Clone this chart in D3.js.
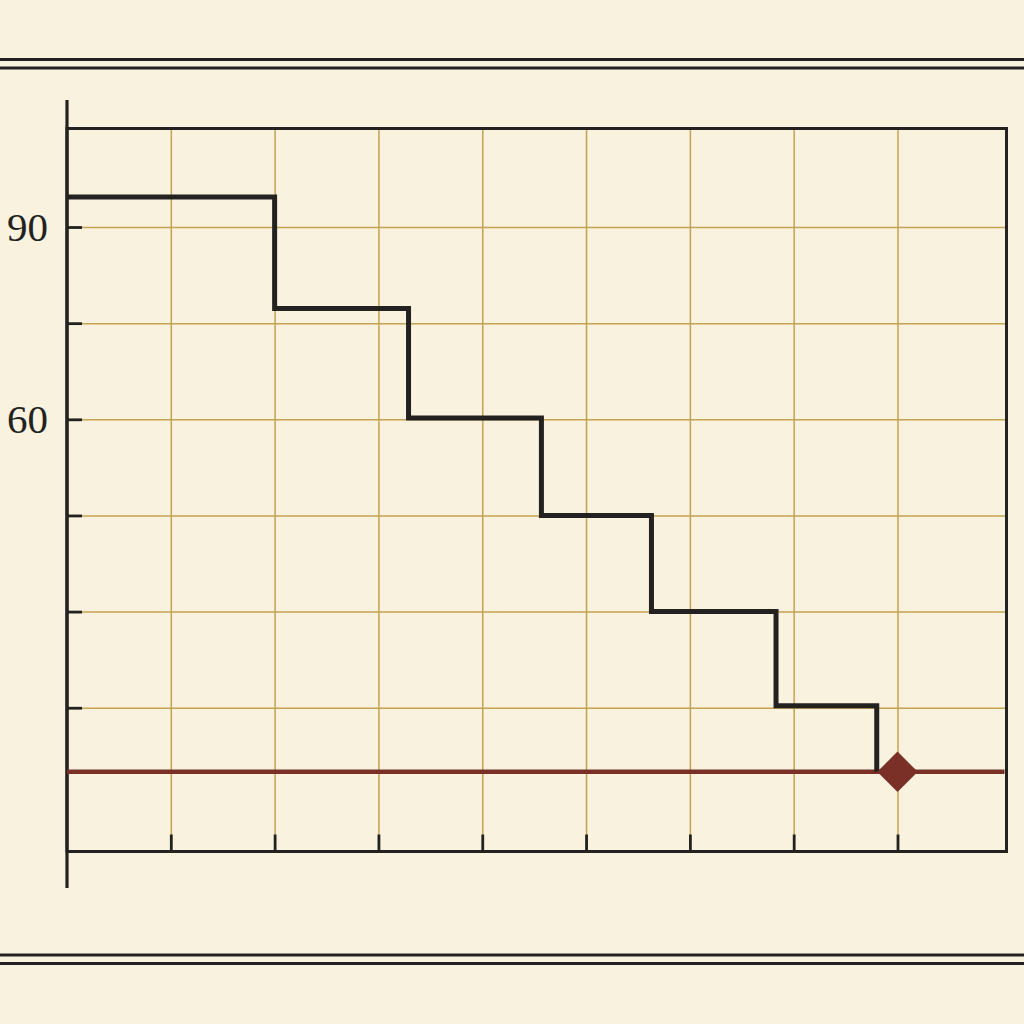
<!DOCTYPE html>
<html>
<head>
<meta charset="utf-8">
<script src="https://cdn.jsdelivr.net/npm/d3@7"></script>
<style>
  html, body { margin: 0; padding: 0; background: #f8f2df; }
  svg { display: block; }
</style>
</head>
<body>
<div class="chart"></div>
<script>
// chart values
var stepX = [0, 2.0, 3.29, 4.57, 5.63, 6.83, 7.8];
var stepY = [94.7, 77.3, 60.2, 45, 30, 15.3, 5];
var xTicks = [1, 2, 3, 4, 5, 6, 7, 8];
var yTicks = [15, 30, 45, 60, 75, 90];
var yLabels = [60, 90];
var refValue = 5;
var markerX = 8;

var svgWidth = 1024;
var svgHeight = 1024;
var margin = {top: 128.5, right: 17.5, bottom: 172.5, left: 67};
var width = svgWidth - margin.left - margin.right;
var height = svgHeight - margin.top - margin.bottom;

var ink = "#242220";
var gold = "#c6a152";
var red = "#7a2f27";

var root = d3.select(".chart")
  .append("svg")
  .attr("width", svgWidth)
  .attr("height", svgHeight);

root.append("rect")
  .attr("width", svgWidth)
  .attr("height", svgHeight)
  .attr("fill", "#f8f2df");

// double rules top and bottom
[59.5, 68, 955, 963.5].forEach(function(y) {
  root.append("line")
    .attr("x1", 0).attr("x2", svgWidth)
    .attr("y1", y).attr("y2", y)
    .attr("stroke", ink)
    .attr("stroke-width", 2.8);
});

var chart = root.append("g")
  .attr("transform", "translate(" + margin.left + "," + margin.top + ")");

var x = d3.scaleLinear().domain([0, 9.05]).range([0, width]);
var y = d3.scaleLinear().domain([-7.43, 105.37]).range([height, 0]);

// gridlines
var xGrid = chart.append("g")
  .attr("transform", "translate(0," + height + ")")
  .call(d3.axisBottom(x).tickValues(xTicks).tickSize(-height).tickFormat(""));
xGrid.select(".domain").remove();
xGrid.selectAll("line").attr("stroke", gold).attr("stroke-width", 1.5);

var yGrid = chart.append("g")
  .call(d3.axisLeft(y).tickValues(yTicks).tickSize(-width).tickFormat(""));
yGrid.select(".domain").remove();
yGrid.selectAll("line").attr("stroke", gold).attr("stroke-width", 1.5);

// frame
chart.append("rect")
  .attr("width", width)
  .attr("height", height)
  .attr("fill", "none")
  .attr("stroke", ink)
  .attr("stroke-width", 3);

// left spine runs past the frame
chart.append("line")
  .attr("x1", 0).attr("x2", 0)
  .attr("y1", -28.5).attr("y2", height + 36.5)
  .attr("stroke", ink)
  .attr("stroke-width", 3.2);

// axes with inward ticks
var bottomAxis = chart.append("g")
  .attr("transform", "translate(0," + height + ")")
  .call(d3.axisBottom(x).tickValues(xTicks).tickSize(-17).tickSizeOuter(0).tickFormat(""));
bottomAxis.select(".domain").remove();
bottomAxis.selectAll("line").attr("stroke", ink).attr("stroke-width", 2.8);

var leftAxis = chart.append("g")
  .call(d3.axisLeft(y).tickValues(yTicks).tickSize(-15).tickSizeOuter(0).tickPadding(19)
    .tickFormat(function(d) { return yLabels.indexOf(d) >= 0 ? d : ""; }));
leftAxis.select(".domain").remove();
leftAxis.selectAll("line").attr("stroke", ink).attr("stroke-width", 2.8);
leftAxis.selectAll("text")
  .attr("fill", ink)
  .style("font-family", "'Liberation Serif', 'DejaVu Serif', serif")
  .style("font-size", "41px");

// reference line
chart.append("line")
  .attr("x1", 0).attr("x2", width - 2)
  .attr("y1", y(refValue)).attr("y2", y(refValue))
  .attr("stroke", red)
  .attr("stroke-width", 4.5);

// step line
var steps = stepX.map(function(d, i) { return {x: d, y: stepY[i]}; });
var line = d3.line()
  .x(function(d) { return x(d.x); })
  .y(function(d) { return y(d.y); })
  .curve(d3.curveStepAfter);

chart.append("path")
  .datum(steps)
  .attr("d", line)
  .attr("fill", "none")
  .attr("stroke", ink)
  .attr("stroke-width", 5)
  .attr("stroke-linejoin", "miter");

// diamond marker
chart.append("path")
  .attr("d", d3.symbol().type(d3.symbolSquare).size(820)())
  .attr("transform", "translate(" + x(markerX) + "," + y(refValue) + ") rotate(45)")
  .attr("fill", red);
</script>
</body>
</html>
